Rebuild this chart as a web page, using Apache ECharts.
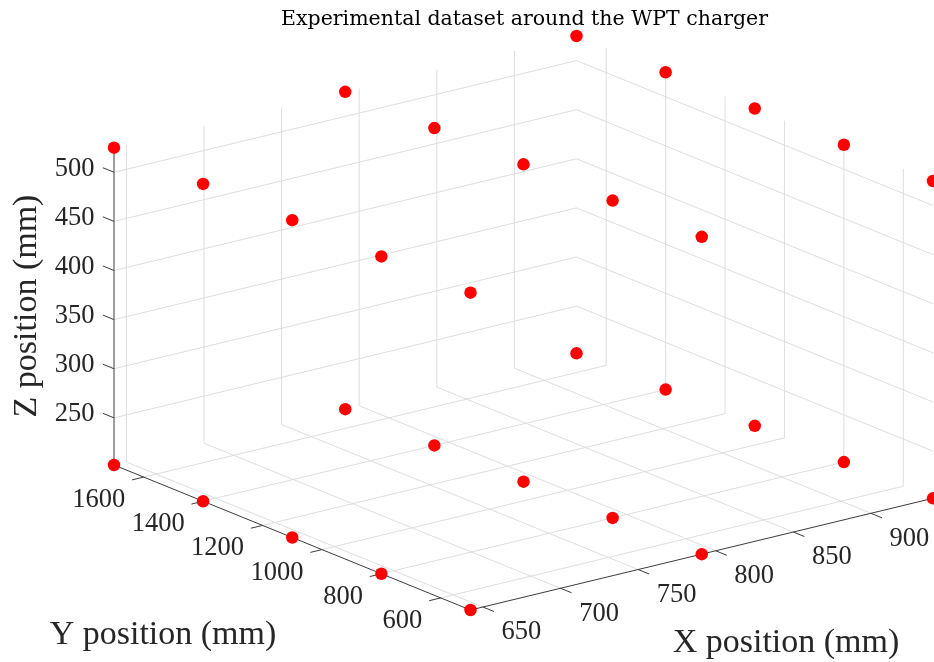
<!DOCTYPE html>
<html><head><meta charset="utf-8">
<script src="https://cdn.jsdelivr.net/npm/echarts@6/dist/echarts.min.js"></script>
<style>html,body{margin:0;padding:0;background:#fff}#c{width:934px;height:662px}</style>
</head><body><div id="c"></div>
<script>
// ---- data (mm) ----
const pointX = [642,642,642,642,642, 791,791,791,791,791, 940,940,940,940,940,
                642,642,642,642,642, 791,791,791,791,791, 940,940,940,940,940];
const pointY = [500,800,1100,1400,1700, 500,800,1100,1400,1700, 500,800,1100,1400,1700,
                500,800,1100,1400,1700, 500,800,1100,1400,1700, 500,800,1100,1400,1700];
const pointZ = [202,202,202,202,202, 202,202,202,202,202, 202,202,202,202,202,
                525,525,525,525,525, 525,525,525,525,525, 525,525,525,525,525];
const xTicks = [650,700,750,800,850,900];
const yTicks = [600,800,1000,1200,1400,1600];
const zTicks = [250,300,350,400,450,500];
const titleText = 'Experimental dataset around the WPT charger';
const xLabel = 'X position (mm)', yLabel = 'Y position (mm)', zLabel = 'Z position (mm)';

// ---- 3D axes (tight limits) and view projection ----
const xl = [Math.min(...pointX), Math.max(...pointX)];
const yl = [Math.min(...pointY), Math.max(...pointY)];
const zl = [Math.min(...pointZ), Math.max(...pointZ)];
const O = [470.5, 610], EX = [462.5, -111.7], EY = [-356.5, -145], EZ = [0, -317.3];
function proj(x, y, z) {
  const fx = (x - xl[0]) / (xl[1] - xl[0]);
  const fy = (y - yl[0]) / (yl[1] - yl[0]);
  const fz = (z - zl[0]) / (zl[1] - zl[0]);
  return [O[0] + fx*EX[0] + fy*EY[0] + fz*EZ[0], O[1] + fx*EX[1] + fy*EY[1] + fz*EZ[1]];
}
function unit(v){ const l = Math.hypot(v[0], v[1]); return [v[0]/l, v[1]/l]; }
const dNegY = unit([-EY[0], -EY[1]]), dNegX = unit([-EX[0], -EX[1]]), dPosY = unit(EY);

// grid segments
const grid = [];
function seg(a, b, arr){ const p = proj(...a), q = proj(...b); arr.push([p[0], p[1], q[0], q[1]]); }
xTicks.forEach(t => { seg([t,yl[1],zl[0]],[t,yl[1],zl[1]],grid); seg([t,yl[0],zl[0]],[t,yl[1],zl[0]],grid); });
yTicks.forEach(t => { seg([xl[1],t,zl[0]],[xl[1],t,zl[1]],grid); seg([xl[0],t,zl[0]],[xl[1],t,zl[0]],grid); });
zTicks.forEach(t => { seg([xl[0],yl[1],t],[xl[1],yl[1],t],grid); seg([xl[1],yl[0],t],[xl[1],yl[1],t],grid); });

// axis lines and ticks
const axes = [];
seg([xl[0],yl[0],zl[0]],[xl[0],yl[1],zl[0]],axes);
seg([xl[0],yl[0],zl[0]],[xl[1],yl[0],zl[0]],axes);
seg([xl[0],yl[1],zl[0]],[xl[0],yl[1],zl[1]],axes);
const TL = 12;
const labels = [];
xTicks.forEach(t => { const p = proj(t, yl[0], zl[0]);
  axes.push([p[0], p[1], p[0]+dNegY[0]*TL, p[1]+dNegY[1]*TL]);
  labels.push([p[0]+38.5, p[1]+25.5, String(t), 'center']); });
yTicks.forEach(t => { const p = proj(xl[0], t, zl[0]);
  axes.push([p[0], p[1], p[0]+dNegX[0]*TL, p[1]+dNegX[1]*TL]);
  labels.push([p[0]-18.5, p[1]+23, String(t), 'right']); });
zTicks.forEach(t => { const p = proj(xl[0], yl[1], t);
  axes.push([p[0], p[1], p[0]+dPosY[0]*TL, p[1]+dPosY[1]*TL]);
  labels.push([p[0]-19.5, p[1]-3.5, String(t), 'right']); });

const points = pointX.map((x, i) => proj(x, pointY[i], pointZ[i]));

function segRenderer(color, width){
  return function(params, api){
    const a = api.coord([api.value(0), api.value(1)]);
    const b = api.coord([api.value(2), api.value(3)]);
    return {type:'line', shape:{x1:a[0], y1:a[1], x2:b[0], y2:b[1]}, style:{stroke:color, lineWidth:width}};
  };
}
const TICKFONT = '26.5px "Liberation Serif", "Times New Roman", serif';
const LABELFONT = '34px "Liberation Serif", "Times New Roman", serif';

const chart = echarts.init(document.getElementById('c'), null, {renderer:'canvas'});
chart.setOption({
  animation: false,
  backgroundColor: '#ffffff',
  grid: {left:0, right:0, top:0, bottom:0},
  xAxis: {type:'value', min:0, max:934, show:false},
  yAxis: {type:'value', min:0, max:662, inverse:true, show:false},
  graphic: [
    {type:'text', x:524.5, y:20, style:{text:titleText, font:'20.5px "DejaVu Serif", serif', fill:'#000000', align:'center', verticalAlign:'middle'}},
    {type:'text', x:786, y:643, style:{text:xLabel, font:LABELFONT, fill:'#262626', align:'center', verticalAlign:'middle'}},
    {type:'text', x:163, y:635, style:{text:yLabel, font:LABELFONT, fill:'#262626', align:'center', verticalAlign:'middle'}},
    {type:'text', x:27, y:306, rotation:Math.PI/2, style:{text:zLabel, font:LABELFONT, fill:'#262626', align:'center', verticalAlign:'middle'}}
  ],
  series: [
    {type:'custom', data:grid, renderItem:segRenderer('#dedede', 1), silent:true, z:1},
    {type:'custom', data:axes, renderItem:segRenderer('#3c3c3c', 1), silent:true, z:2},
    {type:'custom', data:labels, silent:true, z:3, renderItem:function(params, api){
      const p = api.coord([api.value(0), api.value(1)]);
      const it = labels[params.dataIndex];
      return {type:'text', x:p[0], y:p[1], style:{text:it[2], font:TICKFONT, fill:'#262626', align:it[3], verticalAlign:'middle'}};
    }},
    {type:'scatter', data:points, symbol:'circle', symbolSize:12.5, itemStyle:{color:'#ff0000', opacity:1}, z:4, silent:true}
  ]
});
</script></body></html>
